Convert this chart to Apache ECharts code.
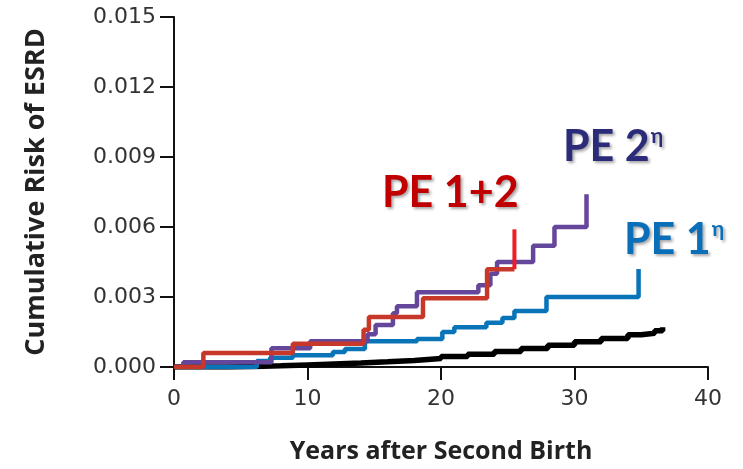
<!DOCTYPE html>
<html>
<head>
<meta charset="utf-8">
<script src="https://cdn.jsdelivr.net/npm/echarts@6/dist/echarts.min.js"></script>
<style>html,body{margin:0;padding:0;background:#fff;}#c{width:743px;height:469px;}</style>
</head>
<body>
<div id="c"></div>
<script>
// Years after second birth (x) and cumulative risk (y) for each group
var noPeYears = [0, 2, 4, 6, 8, 10, 12, 14, 16, 18, 20, 22, 24, 26, 28, 30, 32, 34, 35, 36, 36.6];
var noPeRisk  = [0, 0, 0.00002, 0.00005, 0.00009, 0.00013, 0.00017, 0.00022, 0.00028, 0.00036, 0.00045, 0.00055, 0.00066, 0.00079, 0.00093, 0.00108, 0.00122, 0.00138, 0.00145, 0.00155, 0.0017];

var pe1Years = [0, 6.2, 7.2, 8.9, 11.9, 12.8, 14.3, 18.2, 20.1, 21.0, 23.4, 24.6, 25.5, 27.9, 34.8, 34.8];
var pe1Risk  = [0, 0.00026, 0.0004, 0.0005, 0.00064, 0.00077, 0.0011, 0.0012, 0.0015, 0.0017, 0.0019, 0.0021, 0.0024, 0.0030, 0.0030, 0.0042];

var pe2Years = [0, 0.7, 7.3, 10.2, 14.5, 15.1, 16.4, 16.7, 18.2, 22.8, 23.7, 24.2, 26.9, 28.5, 30.9, 30.9];
var pe2Risk  = [0, 0.0002, 0.0008, 0.0011, 0.0014, 0.0018, 0.0023, 0.0026, 0.0032, 0.0035, 0.0040, 0.0045, 0.0052, 0.0060, 0.0060, 0.0074];

var pe12Years = [0, 2.2, 8.9, 14.2, 14.6, 18.65, 23.45, 25.5];
var pe12Risk  = [0, 0.0006, 0.0010, 0.0016, 0.00214, 0.00295, 0.00419, 0.00419];
var pe12EndYears = [25.5, 25.5];
var pe12EndRisk  = [0.00419, 0.0059];

var yTicks = [0, 0.003, 0.006, 0.009, 0.012, 0.015];
var xTicks = [0, 10, 20, 30, 40];

function pairs(xs, ys) { return xs.map(function (x, i) { return [x, ys[i]]; }); }

var chart = echarts.init(document.getElementById('c'), null, {renderer: 'canvas'});
var shadow = {textShadowColor: 'rgba(0,0,0,0.35)', textShadowBlur: 3, textShadowOffsetX: 2, textShadowOffsetY: 2};
function lbl(main, sup, color, x, y) {
  return {
    type: 'text', left: x, top: y, z: 100,
    style: {
      text: '{a|' + main + '}' + (sup ? '{b|' + sup + '}' : ''),
      rich: {
        a: Object.assign({fontFamily: 'Lato', fontWeight: 'bold', fontSize: 43, fill: color, color: color}, shadow),
        b: Object.assign({fontFamily: 'Lato', fontWeight: 'bold', fontSize: 21, fill: color, color: color, verticalAlign: 'top', padding: [0, 0, 22, 1]}, shadow)
      }
    }
  };
}
var option = {
  animation: false,
  backgroundColor: '#fff',
  grid: {left: 174, right: 35, top: 17, bottom: 101},
  xAxis: {
    type: 'value', min: 0, max: 40, interval: 10,
    name: 'Years after Second Birth', nameLocation: 'middle', nameGap: 72,
    nameTextStyle: {fontFamily: 'Open Sans', fontWeight: 'bold', fontSize: 25, color: '#222'},
    axisLine: {onZero: false, lineStyle: {color: '#111', width: 2}},
    axisTick: {length: 13, lineStyle: {color: '#111', width: 2}},
    axisLabel: {fontFamily: 'DejaVu Sans', fontSize: 22, color: '#333', margin: 21,
      formatter: function (v) { return xTicks.indexOf(v) >= 0 ? String(v) : ''; }},
    splitLine: {show: false}
  },
  yAxis: {
    type: 'value', min: 0, max: 0.015, interval: 0.003,
    name: 'Cumulative Risk of ESRD', nameLocation: 'middle', nameGap: 124, nameRotate: 90,
    nameTextStyle: {fontFamily: 'Open Sans', fontWeight: 'bold', fontSize: 27, color: '#222'},
    axisLine: {show: true, lineStyle: {color: '#111', width: 2}},
    axisTick: {show: true, length: 14, lineStyle: {color: '#111', width: 2}},
    axisLabel: {fontFamily: 'DejaVu Sans', fontSize: 22, color: '#333', margin: 18,
      formatter: function (v) { return yTicks.some(function (t) { return Math.abs(t - v) < 1e-9; }) ? v.toFixed(3) : ''; }},
    splitLine: {show: false}
  },
  series: [
    {type: 'line', step: 'end', data: pairs(noPeYears, noPeRisk), symbol: 'none', lineStyle: {color: '#000', width: 5.5}, z: 2},
    {type: 'line', step: 'end', data: pairs(pe1Years, pe1Risk), symbol: 'none', lineStyle: {color: '#0a74b9', width: 4.5}, z: 3},
    {type: 'line', step: 'end', data: pairs(pe2Years, pe2Risk), symbol: 'none', lineStyle: {color: '#64469b', width: 4.5}, z: 4},
    {type: 'line', step: 'end', data: pairs(pe12Years, pe12Risk), symbol: 'none', lineStyle: {color: '#c8382a', width: 4.5}, z: 5},
    {type: 'line', data: pairs(pe12EndYears, pe12EndRisk), symbol: 'none', lineStyle: {color: '#ee1d25', width: 4}, z: 6}
  ],
  graphic: [
    lbl('PE 1+2', '', '#c00000', 382, 172),
    lbl('PE 2', 'η', '#2b2b7a', 563, 126),
    lbl('PE 1', 'η', '#0a6fb8', 624, 219)
  ]
};
chart.setOption(option);
</script>
</body>
</html>
